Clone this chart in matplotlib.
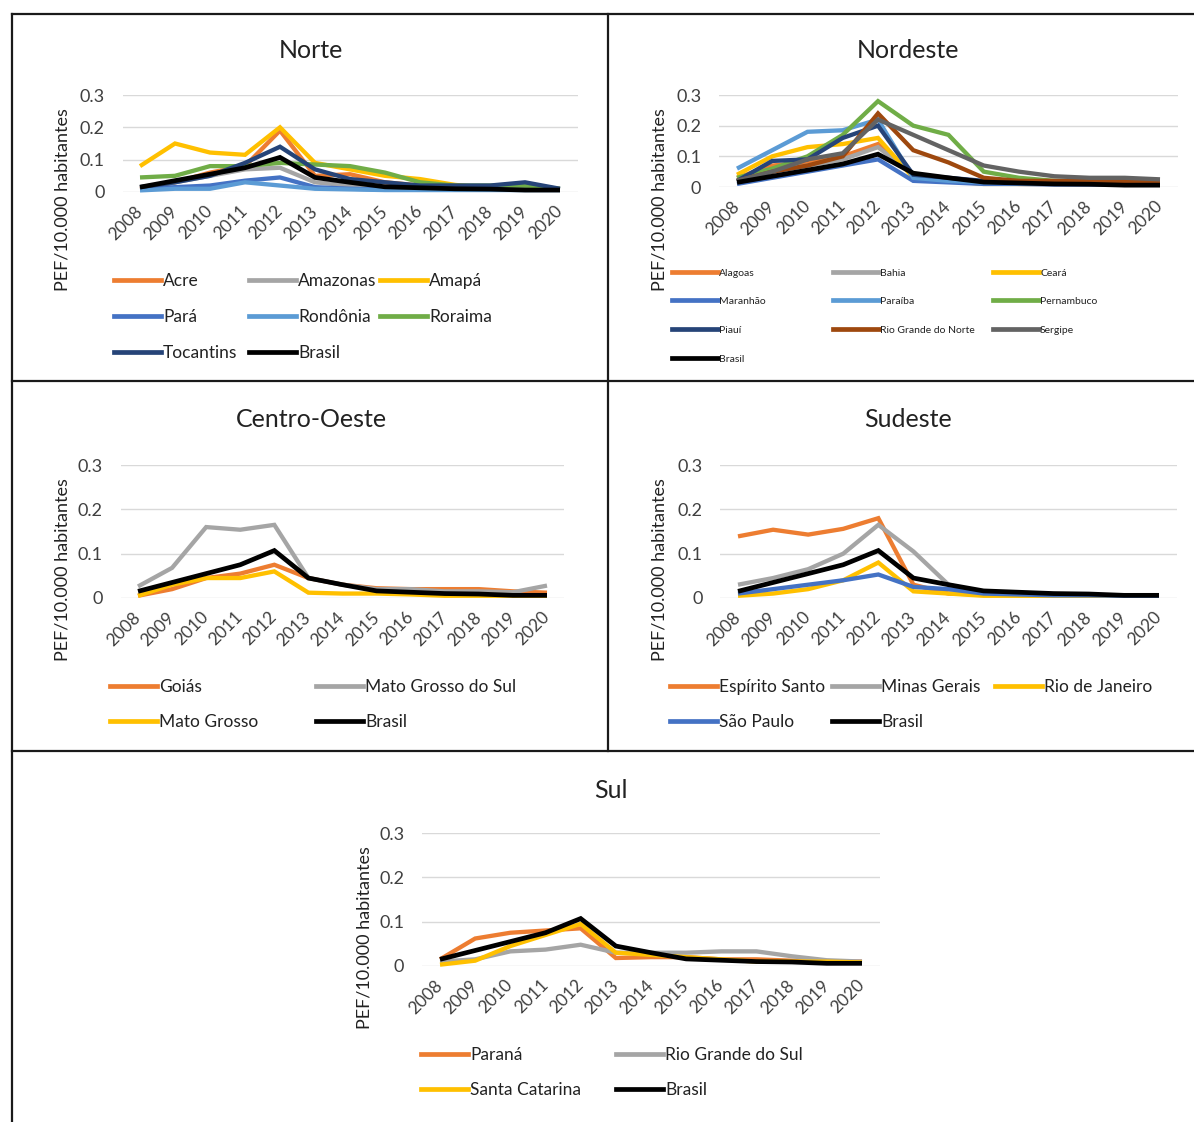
import matplotlib
matplotlib.use("Agg")
import matplotlib.pyplot as plt
from matplotlib.lines import Line2D

plt.rcParams['font.family'] = ['Lato', 'DejaVu Sans']

years = [str(y) for y in range(2008, 2021)]

brasil = [0.015, 0.035, 0.055, 0.075, 0.107, 0.045, 0.03, 0.016, 0.013, 0.01, 0.009, 0.006, 0.006]

# Norte
norte_names = ["Acre", "Amazonas", "Amapá", "Pará", "Rondônia", "Roraima", "Tocantins", "Brasil"]
acre      = [0.010, 0.030, 0.060, 0.080, 0.190, 0.050, 0.055, 0.030, 0.020, 0.015, 0.012, 0.010, 0.008]
amazonas  = [0.010, 0.030, 0.050, 0.070, 0.075, 0.030, 0.020, 0.015, 0.010, 0.010, 0.010, 0.008, 0.008]
amapa     = [0.080, 0.150, 0.122, 0.115, 0.200, 0.090, 0.070, 0.050, 0.040, 0.022, 0.012, 0.010, 0.010]
para      = [0.010, 0.015, 0.020, 0.035, 0.045, 0.015, 0.010, 0.008, 0.008, 0.008, 0.008, 0.008, 0.008]
rondonia  = [0.005, 0.010, 0.010, 0.030, 0.020, 0.010, 0.008, 0.006, 0.006, 0.006, 0.006, 0.006, 0.006]
roraima   = [0.045, 0.050, 0.080, 0.080, 0.090, 0.085, 0.080, 0.060, 0.030, 0.020, 0.020, 0.020, 0.010]
tocantins = [0.015, 0.030, 0.050, 0.090, 0.140, 0.070, 0.040, 0.030, 0.020, 0.020, 0.020, 0.030, 0.010]

# Nordeste
nordeste_names = ["Alagoas", "Bahia", "Ceará", "Maranhão", "Paraíba", "Pernambuco",
                  "Piauí", "Rio Grande do Norte", "Sergipe", "Brasil"]
alagoas    = [0.030, 0.070, 0.080, 0.100, 0.140, 0.040, 0.020, 0.015, 0.010, 0.010, 0.010, 0.010, 0.010]
bahia      = [0.020, 0.050, 0.070, 0.090, 0.130, 0.040, 0.020, 0.015, 0.012, 0.010, 0.010, 0.010, 0.010]
ceara      = [0.040, 0.100, 0.130, 0.140, 0.160, 0.030, 0.020, 0.010, 0.010, 0.010, 0.010, 0.010, 0.010]
maranhao   = [0.010, 0.030, 0.050, 0.070, 0.090, 0.020, 0.015, 0.010, 0.010, 0.008, 0.008, 0.008, 0.008]
paraiba    = [0.060, 0.120, 0.180, 0.185, 0.220, 0.030, 0.020, 0.015, 0.012, 0.010, 0.010, 0.010, 0.010]
pernambuco = [0.030, 0.060, 0.100, 0.170, 0.280, 0.200, 0.170, 0.050, 0.030, 0.020, 0.020, 0.020, 0.020]
piaui      = [0.020, 0.085, 0.090, 0.160, 0.200, 0.040, 0.030, 0.020, 0.015, 0.015, 0.012, 0.012, 0.012]
rgn        = [0.020, 0.050, 0.070, 0.100, 0.240, 0.120, 0.080, 0.030, 0.020, 0.020, 0.020, 0.020, 0.020]
sergipe    = [0.020, 0.050, 0.090, 0.110, 0.220, 0.170, 0.120, 0.070, 0.050, 0.035, 0.030, 0.030, 0.025]

# Centro-Oeste
co_names = ["Goiás", "Mato Grosso do Sul", "Mato Grosso", "Brasil"]
goias = [0.005, 0.020, 0.045, 0.055, 0.075, 0.045, 0.030, 0.022, 0.020, 0.020, 0.020, 0.015, 0.012]
ms    = [0.026, 0.068, 0.160, 0.154, 0.165, 0.045, 0.030, 0.020, 0.020, 0.015, 0.015, 0.013, 0.028]
mt    = [0.005, 0.030, 0.045, 0.045, 0.060, 0.012, 0.010, 0.010, 0.008, 0.005, 0.005, 0.005, 0.005]

# Sudeste
se_names = ["Espírito Santo", "Minas Gerais", "Rio de Janeiro", "São Paulo", "Brasil"]
es = [0.139, 0.154, 0.143, 0.156, 0.180, 0.030, 0.010, 0.008, 0.006, 0.005, 0.005, 0.005, 0.005]
mg = [0.030, 0.045, 0.065, 0.100, 0.165, 0.105, 0.030, 0.010, 0.008, 0.006, 0.006, 0.005, 0.005]
rj = [0.005, 0.010, 0.020, 0.040, 0.080, 0.015, 0.010, 0.005, 0.005, 0.005, 0.005, 0.005, 0.005]
sp = [0.010, 0.020, 0.030, 0.040, 0.053, 0.025, 0.020, 0.010, 0.008, 0.006, 0.006, 0.005, 0.005]

# Sul
sul_names = ["Paraná", "Rio Grande do Sul", "Santa Catarina", "Brasil"]
pr  = [0.015, 0.062, 0.075, 0.080, 0.085, 0.018, 0.020, 0.020, 0.015, 0.015, 0.012, 0.010, 0.010]
rgs = [0.010, 0.015, 0.033, 0.037, 0.048, 0.030, 0.030, 0.030, 0.033, 0.033, 0.022, 0.013, 0.010]
sc  = [0.003, 0.012, 0.045, 0.070, 0.095, 0.030, 0.025, 0.020, 0.015, 0.010, 0.010, 0.010, 0.008]

ORANGE, GRAY, YELLOW, BLUE, LBLUE, GREEN, NAVY, BROWN, DGRAY, BLACK = (
    "#ED7D31", "#A5A5A5", "#FFC000", "#4472C4", "#5B9BD5", "#70AD47",
    "#264478", "#9E480E", "#636363", "#000000")

W, H = 1194, 1122
fig = plt.figure(figsize=(W / 100, H / 100), dpi=100)
fig.patch.set_facecolor("white")

def fx(x):
    return x / W

def fy(y):
    return 1 - y / H

def panel(title, tx, ty, x0, x1, ytop, ybot, series, names, colors,
          ylab_x, legend_cols, legend_rows, lfs, hlen):
    step = (x1 - x0) / 12
    left = x0 - step / 2
    right = x1 + step / 2
    ax = fig.add_axes([fx(left), fy(ybot), (right - left) / W, (ybot - ytop) / H])
    xs = list(range(13))
    handles = []
    for vals, c in zip(series, colors):
        lw = 3.4 if c == BLACK else 3.1
        ln, = ax.plot(xs, vals, color=c, lw=lw, solid_capstyle="butt",
                      solid_joinstyle="miter", clip_on=False, zorder=3)
        handles.append(ln)
    ax.set_xlim(-0.5, 12.5)
    ax.set_ylim(0, 0.3)
    ax.set_yticks([0, 0.1, 0.2, 0.3])
    ax.set_yticklabels(["0", "0.1", "0.2", "0.3"], fontsize=13, color="#404040")
    ax.set_xticks(xs)
    ax.set_xticklabels(years, rotation=45, ha="right", va="center",
                       rotation_mode="anchor", fontsize=12.5, color="#404040")
    ax.tick_params(axis="both", length=0)
    ax.tick_params(axis="y", pad=13)
    ax.tick_params(axis="x", pad=12)
    for s in ax.spines.values():
        s.set_visible(False)
    ax.grid(axis="y", color="#D9D9D9", lw=1)
    ax.set_axisbelow(True)
    fig.text(fx(tx), fy(ty), title, fontsize=18, ha="center", va="center", color="#222222")
    ymid = ytop + 105
    fig.text(fx(ylab_x), fy(ymid), "PEF/10.000 habitantes", rotation=90,
             fontsize=13, ha="center", va="center", color="#222222")
    ncol = len(legend_cols)
    for i, (h, n) in enumerate(zip(handles, names)):
        cx = legend_cols[i % ncol]
        cy = legend_rows[i // ncol]
        proxy = Line2D([0], [0], color=h.get_color(), lw=3.4)
        fig.legend([proxy], [n], loc="center left", bbox_to_anchor=(fx(cx), fy(cy)),
                   frameon=False, handlelength=hlen, handletextpad=0.12,
                   borderpad=0, borderaxespad=0, fontsize=lfs,
                   labelcolor="#222222")
    return ax

panel("Norte", 311, 50, 140, 560, 95, 192,
      [acre, amazonas, amapa, para, rondonia, roraima, tocantins, brasil],
      norte_names, [ORANGE, GRAY, YELLOW, BLUE, LBLUE, GREEN, NAVY, BLACK],
      62, [114, 249, 380], [281, 317, 353], 12.5, 2.7)

panel("Nordeste", 908, 50, 737, 1160, 95, 187,
      [alagoas, bahia, ceara, maranhao, paraiba, pernambuco, piaui, rgn, sergipe, brasil],
      nordeste_names, [ORANGE, GRAY, YELLOW, BLUE, LBLUE, GREEN, NAVY, BROWN, DGRAY, BLACK],
      660, [672, 833, 993], [273, 301, 330, 359], 7.5, 4.4)

panel("Centro-Oeste", 311, 420, 138, 547, 465, 598,
      [goias, ms, mt, brasil], co_names, [ORANGE, GRAY, YELLOW, BLACK],
      62, [110, 316], [687, 722], 12.5, 2.7)

panel("Sudeste", 908, 420, 738, 1159, 465, 598,
      [es, mg, rj, sp, brasil], se_names, [ORANGE, GRAY, YELLOW, BLUE, BLACK],
      660, [670, 832, 995], [687, 722], 12.5, 2.7)

panel("Sul", 611, 790, 440, 862, 833, 966,
      [pr, rgs, sc, brasil], sul_names, [ORANGE, GRAY, YELLOW, BLACK],
      364, [421, 616], [1055, 1090], 12.5, 2.7)

def seg(x0, y0, x1, y1):
    fig.add_artist(Line2D([fx(x0), fx(x1)], [fy(y0), fy(y1)], color="#1a1a1a", lw=1.6,
                          transform=fig.transFigure))

seg(12, 14, W, 14)
seg(12, 14, 12, H)
seg(608, 14, 608, 751)
seg(12, 381, W, 381)
seg(12, 751, W, 751)

fig.savefig("out.png", dpi=100, facecolor="white")
